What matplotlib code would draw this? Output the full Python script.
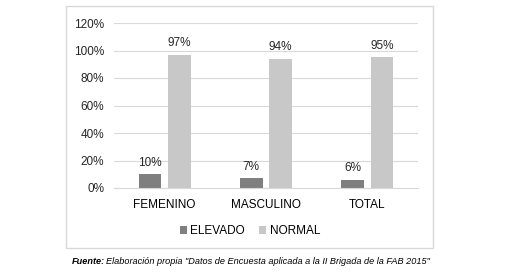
import numpy as np
import matplotlib.pyplot as plt
from matplotlib.patches import Rectangle

categorias = ['FEMENINO', 'MASCULINO', 'TOTAL']
elevado = [10, 7, 6]
normal = [97, 94, 95]
series = ['ELEVADO', 'NORMAL']
colores = ['#7f7f7f', '#c8c8c8']

plt.rcParams['font.family'] = ['Liberation Sans', 'DejaVu Sans']

fig = plt.figure(figsize=(5.1, 2.73), dpi=100)
W, H = 510, 273

# marco gris alrededor del grafico
fig.patches.append(Rectangle((66 / W, 1 - 248 / H), (433 - 66) / W, (248 - 6) / H,
                             transform=fig.transFigure, fill=False,
                             edgecolor='#d9d9d9', linewidth=1.0))

ax = fig.add_axes([114 / W, 1 - 188 / H, (418 - 114) / W, (188 - 23) / H])

x = np.arange(len(categorias))
ancho = 0.225
b1 = ax.bar(x - 0.145, elevado, ancho, color=colores[0], label=series[0])
b2 = ax.bar(x + 0.145, normal, ancho, color=colores[1], label=series[1])

for barras, vals in ((b1, elevado), (b2, normal)):
    for b, v in zip(barras, vals):
        ax.annotate(f'{v}%', (b.get_x() + b.get_width() / 2, v),
                    xytext=(0, 4), textcoords='offset points',
                    ha='center', va='bottom', fontsize=8.5, color='#262626')

ax.set_xlim(-0.5, 2.5)
ax.set_ylim(0, 120)
ax.set_yticks(range(0, 121, 20))
ax.set_yticklabels([f'{t}%' for t in range(0, 121, 20)], fontsize=8.5, color='#262626')
ax.set_xticks(x)
ax.set_xticklabels(categorias, fontsize=8.5, color='#000000')
ax.grid(axis='y', color='#d9d9d9', linewidth=0.8)
ax.set_axisbelow(True)
for s in ['top', 'right', 'left']:
    ax.spines[s].set_visible(False)
ax.spines['bottom'].set_color('#d9d9d9')
ax.tick_params(axis='y', length=0, pad=7)
ax.tick_params(axis='x', length=0, pad=8)

fig.legend(loc='center', bbox_to_anchor=(250 / W, 1 - 231 / H), ncol=2, frameon=False,
           fontsize=8.5, handlelength=0.6, handleheight=0.6, handletextpad=0.3,
           columnspacing=1.2)

fig.text(72 / W, 1 - 262 / H, 'Fuente:', fontsize=6.6, style='italic', weight='bold',
         va='center', ha='left')
fig.text(106 / W, 1 - 262 / H,
         'Elaboración propia "Datos de Encuesta aplicada a la II Brigada de la FAB 2015"',
         fontsize=6.6, style='italic', va='center', ha='left')

fig.savefig('out.png', dpi=100)
